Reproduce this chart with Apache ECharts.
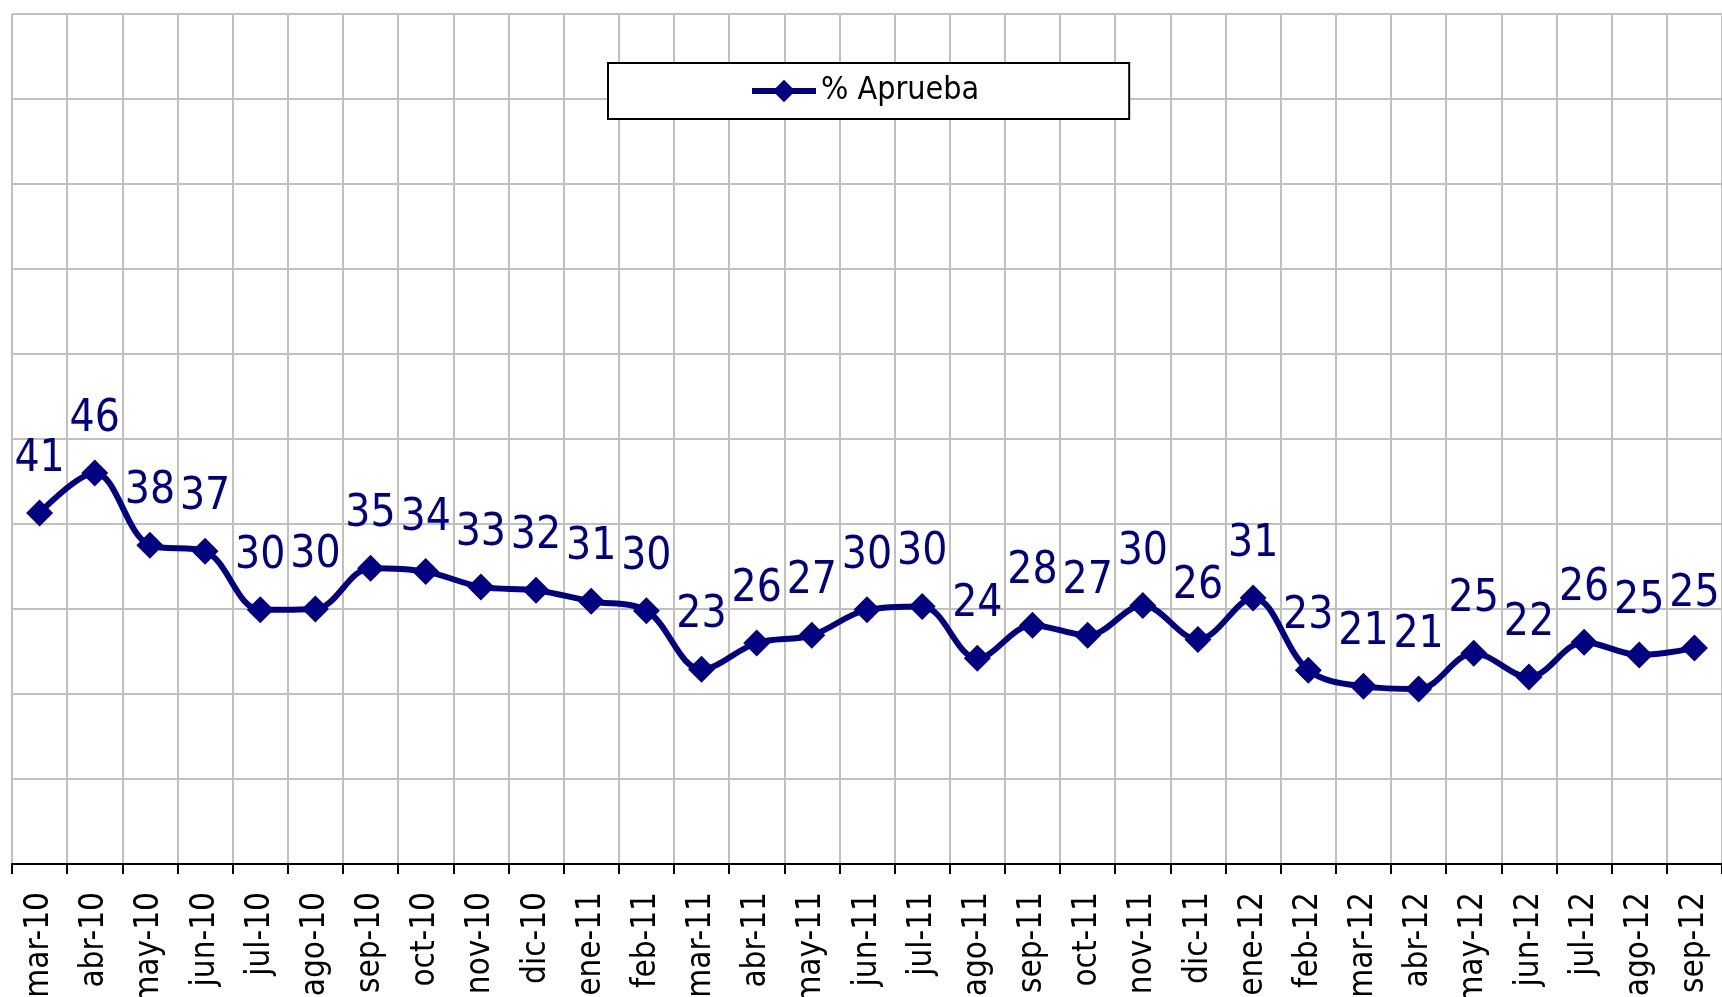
<!DOCTYPE html>
<html>
<head>
<meta charset="utf-8">
<script src="https://cdn.jsdelivr.net/npm/echarts@6/dist/echarts.min.js"></script>
<style>
    html, body { margin: 0; padding: 0; background: #fff; }
    #chart { width: 1722px; height: 997px; }
</style>
</head>
<body>
<div id="chart"></div>
<script>
// meses
var months = ['mar-10', 'abr-10', 'may-10', 'jun-10', 'jul-10', 'ago-10', 'sep-10', 'oct-10',
    'nov-10', 'dic-10', 'ene-11', 'feb-11', 'mar-11', 'abr-11', 'may-11', 'jun-11', 'jul-11',
    'ago-11', 'sep-11', 'oct-11', 'nov-11', 'dic-11', 'ene-12', 'feb-12', 'mar-12', 'abr-12',
    'may-12', 'jun-12', 'jul-12', 'ago-12', 'sep-12'];
// % Aprueba
var aprueba = [41.3, 46.0, 37.5, 36.8, 29.9, 30.0, 34.8, 34.4, 32.6, 32.2, 30.9, 29.8,
    22.9, 26.0, 26.9, 29.9, 30.3, 24.2, 28.1, 26.9, 30.4, 26.4, 31.3, 22.8, 20.9, 20.6,
    24.8, 22.0, 26.1, 24.6, 25.4];
var yTicks = {min: 0, max: 100, interval: 10};

var font = '"DejaVu Sans Condensed", "DejaVu Sans", sans-serif';
var navy = '#000080';

var myChart = echarts.init(document.getElementById('chart'));
myChart.setOption({
    animation: false,
    grid: {
        left: 12,
        top: 14,
        right: 0,
        bottom: 133,
        outerBoundsMode: 'none',
        containLabel: false
    },
    legend: {
        left: 608,
        top: 63,
        padding: [12, 150, 12, 141],
        backgroundColor: '#fff',
        borderColor: '#000',
        borderWidth: 2,
        itemWidth: 64,
        itemHeight: 28,
        itemGap: 6,
        lineStyle: {width: 6},
        textStyle: {
            color: '#000',
            fontFamily: font,
            fontSize: 32
        },
        data: ['% Aprueba']
    },
    xAxis: {
        type: 'category',
        data: months,
        boundaryGap: true,
        axisLine: {
            show: true,
            lineStyle: {color: '#000', width: 2}
        },
        axisTick: {
            show: true,
            length: 10,
            interval: 0,
            lineStyle: {color: '#000', width: 2}
        },
        axisLabel: {
            interval: 0,
            rotate: 90,
            margin: 28,
            color: '#000',
            fontFamily: font,
            fontSize: 33
        },
        splitLine: {
            show: true,
            interval: 0,
            lineStyle: {color: '#c0c0c0', width: 2}
        }
    },
    yAxis: {
        type: 'value',
        min: yTicks.min,
        max: yTicks.max,
        interval: yTicks.interval,
        axisLine: {show: false},
        axisTick: {show: false},
        axisLabel: {show: false},
        splitLine: {
            show: true,
            lineStyle: {color: '#c0c0c0', width: 2}
        }
    },
    series: [{
        name: '% Aprueba',
        type: 'line',
        data: aprueba,
        smooth: 0.35,
        symbol: 'diamond',
        symbolSize: 27,
        itemStyle: {color: navy},
        lineStyle: {color: navy, width: 6},
        label: {
            show: true,
            position: 'top',
            distance: 18,
            color: navy,
            fontFamily: font,
            fontSize: 44,
            formatter: function (p) {
                return Math.round(p.value);
            }
        }
    }]
});
</script>
</body>
</html>
